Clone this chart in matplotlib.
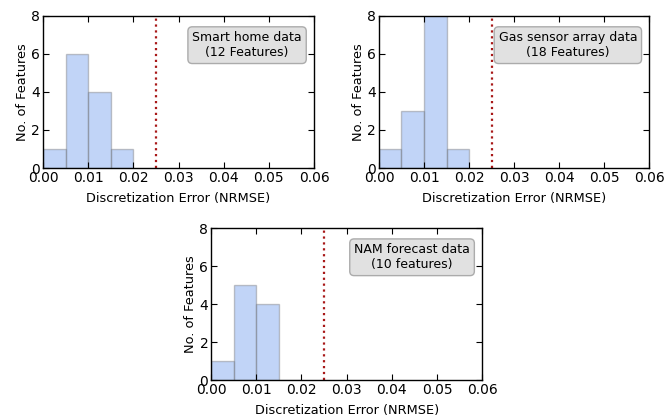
import matplotlib
matplotlib.use("Agg")
import matplotlib.pyplot as plt
import numpy as np

# histogram bins (NRMSE) and counts per data set
bin_edges = [0.000, 0.005, 0.010, 0.015, 0.020]
smart_home_counts = [1, 6, 4, 1]
gas_sensor_counts = [1, 3, 13, 1]
nam_counts = [1, 5, 4, 0]
threshold = 0.025

labels = ["Smart home data\n(12 Features)",
          "Gas sensor array data\n(18 Features)",
          "NAM forecast data\n(10 features)"]
all_counts = [smart_home_counts, gas_sensor_counts, nam_counts]

fig = plt.figure(figsize=(6.66, 4.2), dpi=100)
positions = [
    [0.0646, 0.600, 0.407, 0.362],
    [0.569, 0.600, 0.406, 0.362],
    [0.317, 0.095, 0.407, 0.362],
]

for pos, counts, label in zip(positions, all_counts, labels):
    ax = fig.add_axes(pos)
    centers = np.array(bin_edges[:-1]) + 0.0025
    ax.hist(centers, bins=bin_edges, weights=counts,
            color="cornflowerblue", alpha=0.4, edgecolor="0.45", linewidth=1.0)
    ax.axvline(threshold, color="#a81818", linestyle=":", linewidth=1.6)
    ax.set_xlim(0, 0.06)
    ax.set_ylim(0, 8)
    ax.set_xticks(np.arange(0, 0.0601, 0.01))
    ax.set_xticklabels(["%.2f" % t for t in np.arange(0, 0.0601, 0.01)])
    ax.set_yticks([0, 2, 4, 6, 8])
    ax.tick_params(direction="in", top=True, right=True, labelsize=10,
                   length=4, width=0.8, pad=2)
    ax.set_xlabel("Discretization Error (NRMSE)", fontsize=9.3, labelpad=5)
    ax.set_ylabel("No. of Features", fontsize=9.3, labelpad=2)
    for s in ax.spines.values():
        s.set_linewidth(1.0)
    ax.text(0.955, 0.9, label, transform=ax.transAxes, ha="right", va="top",
            multialignment="center", fontsize=9,
            bbox=dict(boxstyle="round,pad=0.35", facecolor="#dcdcdc",
                      edgecolor="#a0a0a0", alpha=0.85))

plt.savefig("out.png", dpi=100)
